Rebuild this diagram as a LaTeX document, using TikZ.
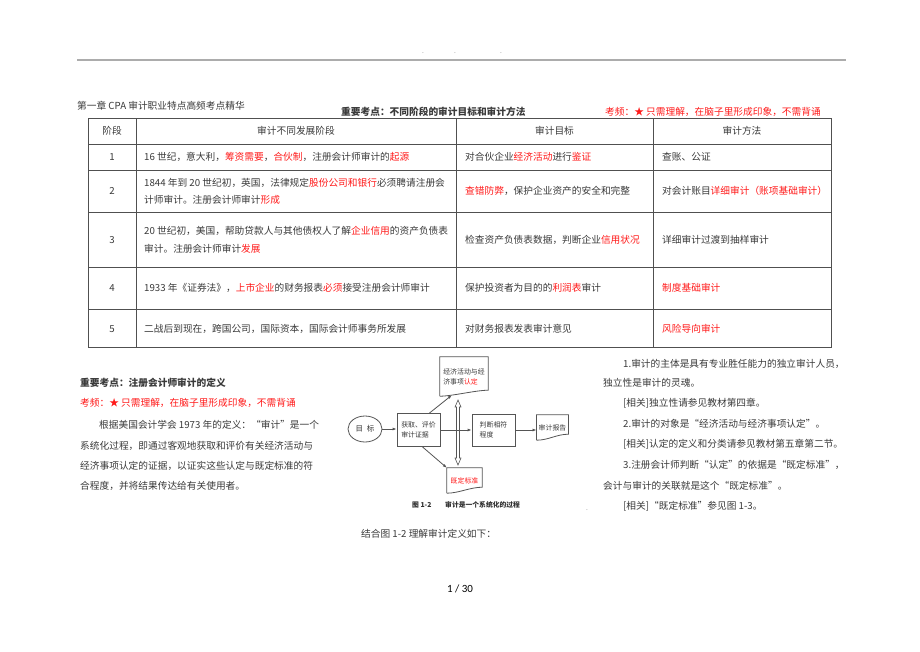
\documentclass[tikz,border=0pt]{standalone}
\usepackage{fontspec}
\setmainfont{Noto Sans CJK SC}
\newfontfamily\pagefont{Carlito}
\usetikzlibrary{arrows.meta,shapes.geometric}
\definecolor{txt}{HTML}{3A3A3A}
\definecolor{rd}{HTML}{FF1A1A}
\definecolor{ln}{HTML}{505050}
\definecolor{fl}{HTML}{555555}
\newcommand\hred[1]{\textcolor{rd}{#1}}
\newcommand\bodysz{\fontsize{9.7pt}{12pt}\selectfont}
\newcommand\figsz{\fontsize{6.9pt}{10pt}\selectfont}
\begin{document}
\begin{tikzpicture}[x=1pt,y=-1pt,
  tx/.style={anchor=west,inner sep=0pt,font=\bodysz,text=txt,text height=7.5pt,text depth=1.5pt},
  tc/.style={tx,anchor=center},
  rtx/.style={tx,text=rd},
  tline/.style={draw=ln,line width=0.8pt},
  fline/.style={draw=fl,line width=0.8pt},
  arr/.style={fline,-{Latex[length=4pt,width=3pt]}},
  fbox/.style={draw=fl,line width=0.8pt,font=\figsz,text=txt,align=left,inner sep=2pt},
  doc/.style={font=\figsz,text=txt,align=left,inner sep=2pt},
  ell/.style={ellipse,draw=fl,line width=0.8pt,font=\fontsize{7.5pt}{9pt}\selectfont,text=txt,minimum width=34pt,minimum height=26pt,inner sep=0pt},
  capt/.style={anchor=west,inner sep=0pt,font=\fontsize{6.8pt}{8pt}\selectfont\bfseries,text=txt!80!black}
]
\useasboundingbox[fill=white] (0,0) rectangle (920,651);

% page header
\draw[line width=2pt,color=gray!65] (77,60) -- (846,60);
\node[inner sep=0pt,font=\tiny] at (423,53) {.};
\node[inner sep=0pt,font=\tiny] at (455,53) {.};
\node[inner sep=0pt,font=\tiny] at (501,53) {.};

\node[tx] (chap) at (77,106) {第一章 CPA 审计职业特点高频考点精华};
\node[tx,font=\bodysz\bfseries] (kp1) at (341,112) {重要考点：不同阶段的审计目标和审计方法};
\node[rtx] (fr1) at (605,112) {考频：★ 只需理解，在脑子里形成印象，不需背诵};

% table grid
\draw[tline,line width=1pt] (88,118) rectangle (831,347);
\foreach \yy in {144,170,212,267,309} {\draw[tline] (88,\yy) -- (831,\yy);}
\foreach \xx in {136,456,653} {\draw[tline] (\xx,118) -- (\xx,347);}

% header row
\node[tc] (h1) at (112,131) {阶段};
\node[tc] (h2) at (296,131) {审计不同发展阶段};
\node[tc] (h3) at (554.5,131) {审计目标};
\node[tc] (h4) at (742,131) {审计方法};

% row 1
\node[tc] (n1) at (112,157) {1};
\node[tx] (a1) at (144,157) {16 世纪，意大利，\hred{筹资需要}，\hred{合伙制}，注册会计师审计的\hred{起源}};
\node[tx] (b1) at (465,157) {对合伙企业\hred{经济活动}进行\hred{鉴证}};
\node[tx] (c1) at (662,157) {查账、公证};

% row 2
\node[tc] (n2) at (112,191) {2};
\node[tx] (a2) at (144,183) {1844 年到 20 世纪初，英国，法律规定\hred{股份公司和银行}必须聘请注册会};
\node[tx] (a2b) at (144,200) {计师审计。注册会计师审计\hred{形成}};
\node[tx] (b2) at (465,191) {\hred{查错防弊}，保护企业资产的安全和完整};
\node[tx] (c2) at (662,191) {对会计账目\hred{详细审计（账项基础审计）}};

% row 3
\node[tc] (n3) at (112,240) {3};
\node[tx] (a3) at (144,231) {20 世纪初，美国，帮助贷款人与其他债权人了解\hred{企业信用}的资产负债表};
\node[tx] (a3b) at (144,249) {审计。注册会计师审计\hred{发展}};
\node[tx] (b3) at (465,240) {检查资产负债表数据，判断企业\hred{信用状况}};
\node[tx] (c3) at (662,240) {详细审计过渡到抽样审计};

% row 4
\node[tc] (n4) at (112,288) {4};
\node[tx] (a4) at (144,288) {1933 年《证券法》，\hred{上市企业}的财务报表\hred{必须}接受注册会计师审计};
\node[tx] (b4) at (465,288) {保护投资者为目的的\hred{利润表}审计};
\node[rtx] (c4) at (662,288) {制度基础审计};

% row 5
\node[tc] (n5) at (112,329) {5};
\node[tx] (a5) at (144,329) {二战后到现在，跨国公司，国际资本，国际会计师事务所发展};
\node[tx] (b5) at (465,329) {对财务报表发表审计意见};
\node[rtx] (c5) at (662,329) {风险导向审计};

% lower left text
\node[tx,font=\bodysz\bfseries] (kp2) at (80,383) {重要考点：注册会计师审计的定义};
\node[rtx] (fr2) at (80,403) {考频：★ 只需理解，在脑子里形成印象，不需背诵};
\node[tx] (p1) at (99,425) {根据美国会计学会 1973 年的定义：“审计”是一个};
\node[tx] (p2) at (80,446) {系统化过程，即通过客观地获取和评价有关经济活动与};
\node[tx] (p3) at (80,466) {经济事项认定的证据，以证实这些认定与既定标准的符};
\node[tx] (p4) at (80,486) {合程度，并将结果传达给有关使用者。};

% right text
\node[tx] (r1) at (623,364) {1.审计的主体是具有专业胜任能力的独立审计人员，};
\node[tx] (r2) at (603,383) {独立性是审计的灵魂。};
\node[tx] (r3) at (623,403) {[相关]独立性请参见教材第四章。};
\node[tx] (r4) at (623,424) {2.审计的对象是“经济活动与经济事项认定”。};
\node[tx] (r5) at (623,444) {[相关]认定的定义和分类请参见教材第五章第二节。};
\node[tx] (r6) at (623,465) {3.注册会计师判断“认定”的依据是“既定标准”，};
\node[tx] (r7) at (603,486) {会计与审计的关联就是这个“既定标准”。};
\node[tx] (r8) at (623,506) {[相关]“既定标准”参见图 1-3。};

% figure
\node[ell] (goal) at (365,429) {目\,\,\,标};
\node[fbox,minimum width=43pt,minimum height=33pt] (get) at (418.5,430) {获取、评价\\审计证据};
\node[fbox,minimum width=43pt,minimum height=32pt] (judge) at (493.5,430) {判断相符\\程度};
\node[doc,minimum width=31pt,minimum height=25pt] (rep) at (552.5,427.5) {审计报告};
\node[doc,minimum width=48pt,minimum height=39pt] (top) at (464,376.5) {经济活动与经\\济事项\hred{认定}};
\node[doc,minimum width=35pt,minimum height=25pt] (std) at (464.5,480.5) {\hred{既定标准}};
\foreach \d in {top,rep,std} {
  \draw[fline] (\d.south west) -- (\d.north west) -- (\d.north east) -- ([yshift=6pt]\d.south east)
    .. controls +(-12pt,0pt) and +(12pt,0pt) .. (\d.south west);
}
\draw[arr] (goal.east) -- (goal.east -| get.west);
\draw[arr] (get.east) -- (judge.west);
\draw[arr] (judge.east) -- (judge.east -| rep.west);
\draw[arr] ([xshift=-11pt]get.north east) -- ([xshift=12pt,yshift=1pt]top.south west);
\draw[arr] ([xshift=4pt]get.south) -- (std.north west);
\coordinate (va) at (458,400);
\coordinate (vb) at (458,465);
\draw[fline,line width=0.6pt] (va) -- ++(-3,7) -- ++(1.5,0) |- ([xshift=-1.5pt,yshift=7pt]vb) -- ++(-1.5,0) -- (vb)
  -- ++(3,-7) -- ++(-1.5,0) |- ([xshift=1.5pt,yshift=-7pt]va) -- ++(1.5,0) -- cycle;
\node[capt] (cap1) at (412,505) {图 1-2};
\node[capt] (cap2) at (445,505) {审计是一个系统化的过程};
\node[inner sep=0pt,font=\tiny] at (587,510) {.};

\node[tx] (comb) at (361,534) {结合图 1-2 理解审计定义如下：};
\node[inner sep=0pt,font=\pagefont\fontsize{11pt}{13pt}\selectfont] (pg) at (460,589) {1 / 30};
\end{tikzpicture}
\end{document}
